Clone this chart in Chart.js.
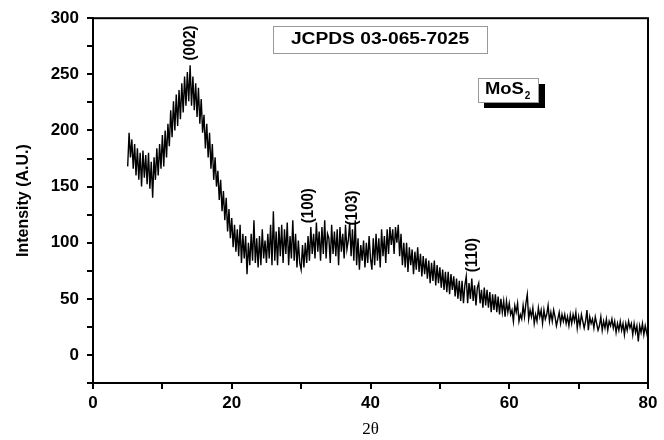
<!DOCTYPE html>
<html>
<head>
<meta charset="utf-8">
<script src="https://cdn.jsdelivr.net/npm/chart.js@4"></script>
<style>
  html, body { margin: 0; padding: 0; background: #fff; }
  #wrap { width: 664px; height: 440px; }
</style>
</head>
<body>
<div id="wrap"><canvas id="xrd" width="664" height="440"></canvas></div>
<script>
// XRD scan: 2theta from 5 to 80 deg, step 0.2 deg
const scanStart = 5;
const scanStep = 0.2;

// intensity, one row per degree (5 readings each)
const intensity = [
  168, 198, 176, 192, 166,   // 5
  188, 160, 184, 156, 180,   // 6
  150, 182, 158, 178, 152,   // 7
  180, 148, 172, 140, 176,   // 8
  156, 184, 160, 188, 166,   // 9
  196, 168, 200, 176, 206,   // 10
  186, 218, 194, 226, 200,   // 11
  232, 204, 236, 210, 242,   // 12
  216, 248, 222, 252, 226,   // 13
  258, 222, 248, 218, 242,   // 14
  212, 238, 206, 228, 198,   // 15
  214, 184, 206, 176, 198,   // 16
  166, 188, 156, 176, 150,   // 17
  164, 138, 156, 128, 146,   // 18
  120, 140, 110, 130, 104,   // 19
  122, 96, 116, 92, 112,     // 20
  88, 116, 82, 108, 86,      // 21
  106, 72, 100, 80, 108,     // 22
  84, 120, 82, 104, 78,      // 23
  106, 80, 112, 86, 102,     // 24
  82, 108, 86, 116, 80,      // 25
  128, 84, 110, 80, 114,     // 26
  88, 116, 82, 112, 90,      // 27
  118, 80, 106, 86, 120,     // 28
  84, 108, 78, 102, 82,      // 29
  76, 98, 78, 100, 82,       // 30
  106, 84, 114, 90, 108,     // 31
  86, 118, 92, 110, 84,      // 32
  114, 90, 120, 86, 108,     // 33
  104, 82, 116, 90, 110,     // 34
  88, 112, 80, 114, 92,      // 35
  108, 86, 116, 94, 102,     // 36
  118, 88, 112, 84, 120,     // 37
  80, 104, 76, 98, 84,       // 38
  102, 78, 100, 82, 106,     // 39
  86, 76, 104, 80, 108,      // 40
  84, 104, 78, 112, 88,      // 41
  106, 82, 112, 90, 114,     // 42
  98, 112, 90, 114, 100,     // 43
  116, 88, 108, 80, 100,     // 44
  78, 100, 74, 96, 80,       // 45
  94, 72, 92, 76, 96,        // 46
  74, 90, 70, 88, 72,        // 47
  86, 68, 84, 64, 82,        // 48
  66, 84, 62, 80, 64,        // 49
  78, 60, 76, 58, 74,        // 50
  56, 74, 54, 72, 58,        // 51
  70, 52, 68, 50, 66,        // 52
  48, 66, 46, 62, 70,        // 53
  46, 64, 50, 68, 48,        // 54
  62, 44, 60, 64, 46,        // 55
  58, 42, 60, 44, 58,        // 56
  42, 56, 38, 54, 40,        // 57
  54, 38, 52, 36, 50,        // 58
  38, 48, 34, 48, 38,        // 59
  46, 36, 40, 30, 44,        // 60
  38, 46, 30, 36, 32,        // 61
  44, 34, 46, 54, 32,        // 62
  40, 34, 42, 28, 36,        // 63
  30, 42, 34, 40, 28,        // 64
  40, 32, 36, 44, 30,        // 65
  38, 30, 40, 34, 26,        // 66
  32, 38, 28, 36, 30,        // 67
  36, 28, 34, 26, 36,        // 68
  28, 36, 30, 38, 24,        // 69
  34, 26, 36, 30, 24,        // 70
  30, 40, 22, 34, 28,        // 71
  32, 24, 34, 28, 22,        // 72
  26, 34, 22, 30, 24,        // 73
  32, 22, 30, 26, 32,        // 74
  24, 30, 20, 28, 22,        // 75
  30, 22, 28, 18, 28,        // 76
  22, 30, 24, 28, 18,        // 77
  28, 20, 26, 12, 26,        // 78
  20, 28, 18, 26, 20,        // 79
  14                         // 80
];

// reflection labels (hkl) and where they sit
const peakLabels = ['(002)', '(100)', '(103)', '(110)'];
const peakAngles = [14.0, 31.0, 37.4, 54.7];
const peakLabelY = [278, 133, 131, 89];

const xTicks = [0, 20, 40, 60, 80];
const yTicks = [0, 50, 100, 150, 200, 250, 300];

const points = intensity.map((v, i) => ({ x: +(scanStart + i * scanStep).toFixed(1), y: v }));

const boldFont = '"Liberation Sans", Arial, sans-serif';

// text drawn a little wide, like the source figure
function wideText(ctx, txt, x, y, sx) {
  ctx.save();
  ctx.translate(x, y);
  ctx.scale(sx, 1);
  ctx.fillText(txt, 0, 0);
  ctx.restore();
}

const decorations = {
  id: 'decorations',
  afterDraw(chart) {
    const { ctx, chartArea: a, scales: { x, y } } = chart;
    ctx.save();
    // frame
    ctx.strokeStyle = '#000';
    ctx.lineWidth = 2;
    ctx.strokeRect(a.left, a.top, a.right - a.left, a.bottom - a.top);

    // peak labels, rotated
    ctx.fillStyle = '#000';
    ctx.font = 'bold 15px ' + boldFont;
    ctx.textAlign = 'center';
    ctx.textBaseline = 'middle';
    peakLabels.forEach((t, i) => {
      ctx.save();
      ctx.translate(x.getPixelForValue(peakAngles[i]), y.getPixelForValue(peakLabelY[i]));
      ctx.rotate(-Math.PI / 2);
      ctx.scale(1, 1.15);
      ctx.fillText(t, 0, 0);
      ctx.restore();
    });

    // JCPDS box
    ctx.lineWidth = 1;
    ctx.strokeStyle = '#999';
    ctx.fillStyle = '#fff';
    ctx.fillRect(273, 26, 214, 27);
    ctx.strokeRect(273.5, 26.5, 214, 27);
    ctx.fillStyle = '#000';
    ctx.font = 'bold 16px ' + boldFont;
    wideText(ctx, 'JCPDS 03-065-7025', 380, 40, 1.2);

    // MoS2 box with shadow
    ctx.fillStyle = '#000';
    ctx.fillRect(484, 84, 61, 24);
    ctx.fillStyle = '#fff';
    ctx.fillRect(478, 78, 60, 24);
    ctx.strokeStyle = '#999';
    ctx.strokeRect(478.5, 78.5, 60, 24);
    ctx.fillStyle = '#000';
    ctx.textAlign = 'left';
    ctx.font = 'bold 16px ' + boldFont;
    wideText(ctx, 'MoS', 485, 90, 1.15);
    const w = ctx.measureText('MoS').width * 1.15;
    ctx.font = 'bold 10px ' + boldFont;
    ctx.fillText('2', 485 + w + 1, 96);
    ctx.restore();
  }
};

new Chart(document.getElementById('xrd').getContext('2d'), {
  type: 'line',
  data: {
    datasets: [{
      data: points,
      borderColor: '#000',
      borderWidth: 1.4,
      pointRadius: 0,
      tension: 0,
      fill: false
    }]
  },
  options: {
    responsive: false,
    animation: false,
    layout: { padding: { top: 18, right: 16, left: 0, bottom: 0 } },
    plugins: { legend: { display: false }, tooltip: { enabled: false } },
    scales: {
      x: {
        type: 'linear',
        min: 0,
        max: 80,
        afterFit: s => { s.height = 57; },
        afterBuildTicks: s => {
          s.ticks = [0, 10, 20, 30, 40, 50, 60, 70, 80].map(v => ({ value: v }));
        },
        ticks: {
          color: '#000',
          font: { family: boldFont, size: 17, weight: 'bold' },
          padding: 4,
          maxRotation: 0,
          callback: v => xTicks.includes(v) ? String(v) : ''
        },
        grid: { display: true, drawOnChartArea: false, drawTicks: true, tickLength: 6, color: '#000', lineWidth: 2 },
        border: { display: true, color: '#000', width: 2 },
        title: {
          display: true,
          text: '2θ',
          color: '#000',
          font: { family: '"Liberation Serif", "Times New Roman", serif', size: 17 },
          padding: { top: 4, bottom: 0 }
        }
      },
      y: {
        min: -25,
        max: 300,
        afterFit: s => { s.width = 93; },
        afterBuildTicks: s => {
          s.ticks = [-25, 0, 25, 50, 75, 100, 125, 150, 175, 200, 225, 250, 275, 300].map(v => ({ value: v }));
        },
        ticks: {
          color: '#000',
          font: { family: boldFont, size: 17, weight: 'bold' },
          padding: 8,
          callback: v => yTicks.includes(v) ? String(v) : ''
        },
        grid: { display: true, drawOnChartArea: false, drawTicks: true, tickLength: 6, color: '#000', lineWidth: 2 },
        border: { display: true, color: '#000', width: 2 },
        title: {
          display: true,
          text: 'Intensity (A.U.)',
          color: '#000',
          font: { family: boldFont, size: 16, weight: 'bold' },
          padding: { top: 14, bottom: 0 }
        }
      }
    }
  },
  plugins: [decorations]
});
</script>
</body>
</html>
